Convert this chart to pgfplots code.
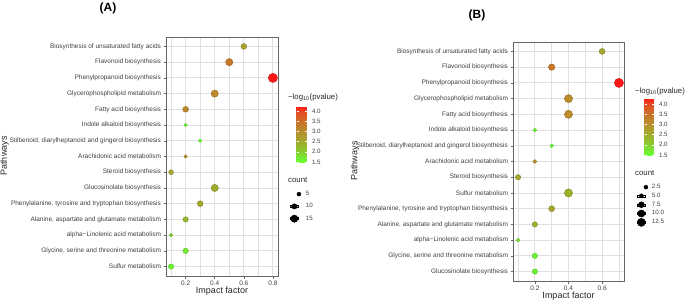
\documentclass[border=0pt]{standalone}
\usepackage{fontspec}
\setmainfont{Liberation Sans}
\usepackage{pgfplots}
\pgfplotsset{compat=1.18}
\usepackage{pgfplotstable}

\newcommand\axt{\fontsize{6.5}{7.5}\selectfont}
\newcommand\legt{\fontsize{6.2}{7}\selectfont}
\newcommand\ttl{\fontsize{9.0}{10}\selectfont}
\newcommand\legttl{\fontsize{7.8}{8}\selectfont}
\newcommand\cntkey[1]{\addlegendimage{legend image code/.code={\fill[black, overlay] (4pt,0pt) circle[radius=#1]; \path (0pt,-1pt) rectangle (8pt,1pt);}}}

\pgfplotstableread{
y x p n
15 0.6 2.70 6
14 0.5 3.40 10
13 0.8 4.25 17
12 0.4 3.10 10
11 0.2 3.10 6
10 0.2 1.60 2
9 0.3 1.50 2
8 0.2 3.00 2
7 0.1 2.60 4
6 0.4 2.50 10
5 0.3 2.60 6
4 0.2 2.30 5
3 0.1 1.90 2
2 0.2 1.70 5
1 0.1 1.60 5
}\dataA

\pgfplotstableread{
y x p n
15 0.6 2.60 5
14 0.3 3.40 6
13 0.7 4.30 13
12 0.4 3.10 10
11 0.4 3.10 10
10 0.2 1.60 2
9 0.3 1.50 2
8 0.2 3.00 2
7 0.1 2.60 4
6 0.4 2.50 10
5 0.3 2.60 5
4 0.2 2.40 4
3 0.1 1.80 2
2 0.2 1.60 4
1 0.2 1.60 4
}\dataB

\pgfplotsset{
  /pgf/number format/assume math mode=true,
  colormap={pv}{rgb255(148pt)=(102,255,51); rgb255(200pt)=(135,205,45); rgb255(250pt)=(160,172,45); rgb255(300pt)=(182,145,45); rgb255(350pt)=(202,115,40); rgb255(400pt)=(232,75,35); rgb255(430pt)=(255,22,22)},
  dotplot/.style={
    scale only axis, width=112pt, height=239pt,
    ymin=0.4, ymax=15.6, ytick={1,...,15},
    grid=both,
    major grid style={black!12, line width=0.9pt},
    minor grid style={black!12, line width=0.5pt},
    minor tick length=0pt,
    major tick length=2.5pt,
    tick align=outside,
    xtick pos=bottom, ytick pos=left,
    tick style={black!60, line width=0.5pt},
    axis line style={black!60, line width=0.8pt},
    ticklabel style={font=\axt, text=black!75},
    xticklabel style={/pgf/number format/fixed, /pgf/number format/precision=1, inner sep=0.5pt, yshift=-1.5pt},
    yticklabel style={xshift=1pt},
    clip=false,
    colormap name=pv,
    colorbar,
    legend cell align=left,
  },
  cbar/.style={
    scale only axis,
    axis line style={draw=none},
    ytick={1.5,2,...,4},
    major tick length=2pt,
    tick align=inside,
    tick style={white, line width=0.5pt},
    yticklabel style={font=\legt, text=black!75, /pgf/number format/fixed, /pgf/number format/fixed zerofill, /pgf/number format/precision=1, xshift=2pt},
  },
}

\begin{document}
\begin{tikzpicture}
\useasboundingbox (0,0) rectangle (685pt,301pt);

% ---------------- Panel A ----------------
\begin{axis}[dotplot,
  at={(166pt,25pt)}, anchor=south west,
  xmin=0.065, xmax=0.835,
  xtick={0.2,0.4,0.6,0.8}, minor xtick={0.1,0.3,0.5,0.7},
  yticklabels={Sulfur metabolism, {Glycine, serine and threonine metabolism}, alpha−Linolenic acid metabolism, {Alanine, aspartate and glutamate metabolism}, {Phenylalanine, tyrosine and tryptophan biosynthesis}, Glucosinolate biosynthesis, Steroid biosynthesis, Arachidonic acid metabolism, {Stilbenoid, diarylheptanoid and gingerol biosynthesis}, Indole alkaloid biosynthesis, Fatty acid biosynthesis, Glycerophospholipid metabolism, Phenylpropanoid biosynthesis, Flavonoid biosynthesis, Biosynthesis of unsaturated fatty acids},
  point meta min=1.5, point meta max=4.25,
  colorbar style={cbar, at={(parent axis.north east)}, anchor=north west, xshift=10pt, yshift=-69pt, width=10pt, height=56pt},
  legend style={at={(1.107,0.3577)}, anchor=north west, draw=none, fill=none, inner sep=0pt, font=\legt, text=black!75, row sep=5.5pt, column sep=4.5pt, nodes={inner sep=0.5pt}},
]
\addplot[scatter, only marks, mark=*, point meta=\thisrow{p},
  visualization depends on={0.77+0.96*sqrt(\thisrow{n}-1) \as \rr},
  scatter/@pre marker code/.append style={/tikz/mark size=\rr pt}]
  table[x=x, y=y] {\dataA};
\cntkey{2.69pt}\addlegendentry{5}
\cntkey{3.65pt}\addlegendentry{10}
\cntkey{4.36pt}\addlegendentry{15}
\end{axis}

% ---------------- Panel B ----------------
\begin{axis}[dotplot,
  at={(513pt,20pt)}, anchor=south west, width=111pt,
  xmin=0.07, xmax=0.73,
  xtick={0.2,0.4,0.6}, minor xtick={0.1,0.3,0.5,0.7},
  yticklabels={Glucosinolate biosynthesis, {Glycine, serine and threonine metabolism}, alpha−Linolenic acid metabolism, {Alanine, aspartate and glutamate metabolism}, {Phenylalanine, tyrosine and tryptophan biosynthesis}, Sulfur metabolism, Steroid biosynthesis, Arachidonic acid metabolism, {Stilbenoid, diarylheptanoid and gingerol biosynthesis}, Indole alkaloid biosynthesis, Fatty acid biosynthesis, Glycerophospholipid metabolism, Phenylpropanoid biosynthesis, Flavonoid biosynthesis, Biosynthesis of unsaturated fatty acids},
  point meta min=1.5, point meta max=4.3,
  colorbar style={cbar, at={(parent axis.north east)}, anchor=north west, xshift=12pt, yshift=-56pt, width=9pt, height=57pt},
  legend style={at={(1.117,0.408)}, anchor=north west, draw=none, fill=none, inner sep=0pt, font=\legt, text=black!75, row sep=2.0pt, column sep=3.5pt, nodes={inner sep=0.5pt}},
]
\addplot[scatter, only marks, mark=*, point meta=\thisrow{p},
  visualization depends on={0.77+1.11*sqrt(\thisrow{n}-1) \as \rr},
  scatter/@pre marker code/.append style={/tikz/mark size=\rr pt}]
  table[x=x, y=y] {\dataB};
\cntkey{2.13pt}\addlegendentry{2.5}
\cntkey{2.99pt}\addlegendentry{5.0}
\cntkey{3.60pt}\addlegendentry{7.5}
\cntkey{4.10pt}\addlegendentry{10.0}
\cntkey{4.53pt}\addlegendentry{12.5}
\end{axis}

% ---------------- texts ----------------
\node[font=\bfseries\fontsize{12}{14}\selectfont] at (108pt,292.5pt) {(A)};
\node[font=\bfseries\fontsize{12}{14}\selectfont] at (477pt,286pt) {(B)};
\node[font=\ttl, text=black!85, anchor=north, inner sep=0pt] at (222pt,14.5pt) {Impact factor};
\node[font=\ttl, text=black!85, anchor=north, inner sep=0pt] at (568.5pt,9.5pt) {Impact factor};
\node[font=\ttl, text=black!85, rotate=90] at (4.5pt,145pt) {Pathways};
\node[font=\ttl, text=black!85, rotate=90] at (355pt,140pt) {Pathways};
\node[font=\legttl, text=black!85, anchor=west, inner sep=0pt] at (288pt,204pt) {−log\textsubscript{10}(pvalue)};
\node[font=\legttl, text=black!85, anchor=west, inner sep=0pt] at (635pt,210pt) {−log\textsubscript{10}(pvalue)};
\node[font=\legttl, text=black!85, anchor=west, inner sep=0pt] at (288pt,121pt) {count};
\node[font=\legttl, text=black!85, anchor=west, inner sep=0pt] at (635pt,128pt) {count};
\end{tikzpicture}
\end{document}
